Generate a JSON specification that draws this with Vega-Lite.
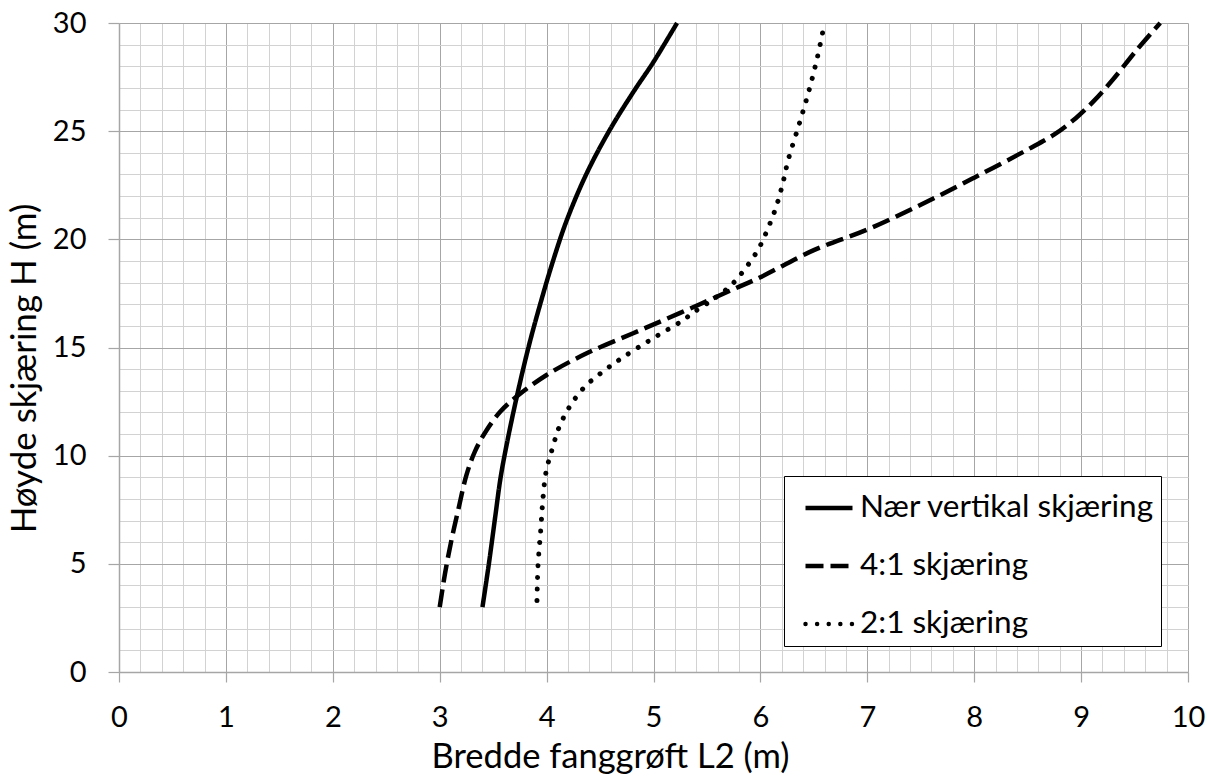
{
  "$schema": "https://vega.github.io/schema/vega-lite/v6.json",
  "width": 1069,
  "height": 649,
  "autosize": {"type": "none"},
  "padding": {"left": 119, "top": 23, "right": 20, "bottom": 106},
  "background": "white",
  "config": {"view": {"stroke": null}, "font": "Lato"},
  "data": {
    "values": [
      {"s": "Nær vertikal skjæring", "L": 3.40, "H": 3},
      {"s": "Nær vertikal skjæring", "L": 3.46, "H": 5},
      {"s": "Nær vertikal skjæring", "L": 3.52, "H": 7.2},
      {"s": "Nær vertikal skjæring", "L": 3.57, "H": 9},
      {"s": "Nær vertikal skjæring", "L": 3.63, "H": 10.6},
      {"s": "Nær vertikal skjæring", "L": 3.72, "H": 12.7},
      {"s": "Nær vertikal skjæring", "L": 3.83, "H": 15},
      {"s": "Nær vertikal skjæring", "L": 3.94, "H": 17},
      {"s": "Nær vertikal skjæring", "L": 4.06, "H": 19},
      {"s": "Nær vertikal skjæring", "L": 4.19, "H": 20.9},
      {"s": "Nær vertikal skjæring", "L": 4.375, "H": 23.05},
      {"s": "Nær vertikal skjæring", "L": 4.59, "H": 25.05},
      {"s": "Nær vertikal skjæring", "L": 4.81, "H": 26.8},
      {"s": "Nær vertikal skjæring", "L": 5.0, "H": 28.2},
      {"s": "Nær vertikal skjæring", "L": 5.22, "H": 30},
      {"s": "4:1 skjæring", "L": 3.0, "H": 3},
      {"s": "4:1 skjæring", "L": 3.05, "H": 4.56},
      {"s": "4:1 skjæring", "L": 3.11, "H": 6.1},
      {"s": "4:1 skjæring", "L": 3.18, "H": 7.64},
      {"s": "4:1 skjæring", "L": 3.25, "H": 9.1},
      {"s": "4:1 skjæring", "L": 3.33, "H": 10.2},
      {"s": "4:1 skjæring", "L": 3.44, "H": 11.19},
      {"s": "4:1 skjæring", "L": 3.57, "H": 12.05},
      {"s": "4:1 skjæring", "L": 3.72, "H": 12.73},
      {"s": "4:1 skjæring", "L": 4.0, "H": 13.73},
      {"s": "4:1 skjæring", "L": 4.375, "H": 14.73},
      {"s": "4:1 skjæring", "L": 4.81, "H": 15.66},
      {"s": "4:1 skjæring", "L": 5.25, "H": 16.6},
      {"s": "4:1 skjæring", "L": 5.75, "H": 17.7},
      {"s": "4:1 skjæring", "L": 6.0, "H": 18.25},
      {"s": "4:1 skjæring", "L": 6.5, "H": 19.5},
      {"s": "4:1 skjæring", "L": 7.0, "H": 20.45},
      {"s": "4:1 skjæring", "L": 7.5, "H": 21.6},
      {"s": "4:1 skjæring", "L": 8.0, "H": 22.85},
      {"s": "4:1 skjæring", "L": 8.5, "H": 24.15},
      {"s": "4:1 skjæring", "L": 8.75, "H": 24.85},
      {"s": "4:1 skjæring", "L": 8.95, "H": 25.6},
      {"s": "4:1 skjæring", "L": 9.12, "H": 26.4},
      {"s": "4:1 skjæring", "L": 9.3, "H": 27.4},
      {"s": "4:1 skjæring", "L": 9.52, "H": 28.75},
      {"s": "4:1 skjæring", "L": 9.74, "H": 30},
      {"s": "2:1 skjæring", "L": 3.91, "H": 3.3},
      {"s": "2:1 skjæring", "L": 3.92, "H": 4.95},
      {"s": "2:1 skjæring", "L": 3.945, "H": 6.55},
      {"s": "2:1 skjæring", "L": 3.965, "H": 7.95},
      {"s": "2:1 skjæring", "L": 3.995, "H": 9.25},
      {"s": "2:1 skjæring", "L": 4.055, "H": 10.35},
      {"s": "2:1 skjæring", "L": 4.12, "H": 11.35},
      {"s": "2:1 skjæring", "L": 4.22, "H": 12.3},
      {"s": "2:1 skjæring", "L": 4.36, "H": 13.2},
      {"s": "2:1 skjæring", "L": 4.525, "H": 13.88},
      {"s": "2:1 skjæring", "L": 4.70, "H": 14.5},
      {"s": "2:1 skjæring", "L": 4.98, "H": 15.38},
      {"s": "2:1 skjæring", "L": 5.28, "H": 16.27},
      {"s": "2:1 skjæring", "L": 5.36, "H": 16.58},
      {"s": "2:1 skjæring", "L": 5.55, "H": 17.2},
      {"s": "2:1 skjæring", "L": 5.73, "H": 17.9},
      {"s": "2:1 skjæring", "L": 5.86, "H": 18.66},
      {"s": "2:1 skjæring", "L": 5.98, "H": 19.54},
      {"s": "2:1 skjæring", "L": 6.07, "H": 20.5},
      {"s": "2:1 skjæring", "L": 6.15, "H": 21.54},
      {"s": "2:1 skjæring", "L": 6.21, "H": 22.6},
      {"s": "2:1 skjæring", "L": 6.26, "H": 23.67},
      {"s": "2:1 skjæring", "L": 6.355, "H": 25.2},
      {"s": "2:1 skjæring", "L": 6.45, "H": 26.8},
      {"s": "2:1 skjæring", "L": 6.53, "H": 28.35},
      {"s": "2:1 skjæring", "L": 6.60, "H": 30}
    ]
  },
  "encoding": {
    "x": {
      "field": "L",
      "type": "quantitative",
      "scale": {"domain": [0, 10], "nice": false, "zero": false},
      "axis": {
        "title": "Bredde fanggrøft L2 (m)",
        "values": [0,0.2,0.4,0.6,0.8,1,1.2,1.4,1.6,1.8,2,2.2,2.4,2.6,2.8,3,3.2,3.4,3.6,3.8,4,4.2,4.4,4.6,4.8,5,5.2,5.4,5.6,5.8,6,6.2,6.4,6.6,6.8,7,7.2,7.4,7.6,7.8,8,8.2,8.4,8.6,8.8,9,9.2,9.4,9.6,9.8,10],
        "grid": true,
        "gridColor": {"condition": {"test": "abs(datum.value - round(datum.value)) < 0.001", "value": "#a6a6a6"}, "value": "#d2d2d2"},
        "gridWidth": 1,
        "domainColor": "#a6a6a6",
        "domainWidth": 1.5,
        "tickColor": {"condition": {"test": "abs(datum.value - round(datum.value)) < 0.001", "value": "#a6a6a6"}, "value": "rgba(0,0,0,0)"},
        "tickSize": 10,
        "tickWidth": 1.2,
        "labelExpr": "abs(datum.value - round(datum.value)) < 0.001 ? format(datum.value, 'd') : ''",
        "labelFlush": false,
        "labelOverlap": false,
        "labelPadding": 21,
        "labelFontSize": 29,
        "labelColor": "black",
        "labelFont": "Lato",
        "titleFont": "Lato",
        "titleFontSize": 34.5,
        "titleFontWeight": "normal",
        "titleColor": "black",
        "titleX": 491,
        "titleY": 95,
        "titleBaseline": "alphabetic",
        "titleAlign": "center"
      }
    },
    "y": {
      "field": "H",
      "type": "quantitative",
      "scale": {"domain": [0, 30], "nice": false, "zero": false},
      "axis": {
        "title": "Høyde skjæring H (m)",
        "values": [0,1,2,3,4,5,6,7,8,9,10,11,12,13,14,15,16,17,18,19,20,21,22,23,24,25,26,27,28,29,30],
        "grid": true,
        "gridColor": {"condition": {"test": "datum.value % 5 === 0", "value": "#a6a6a6"}, "value": "#d2d2d2"},
        "gridWidth": 1,
        "domainColor": "#a6a6a6",
        "domainWidth": 1.5,
        "tickColor": {"condition": {"test": "datum.value % 5 === 0", "value": "#a6a6a6"}, "value": "rgba(0,0,0,0)"},
        "tickSize": 11,
        "tickWidth": 1.2,
        "labelExpr": "datum.value % 5 === 0 ? format(datum.value, 'd') : ''",
        "labelOverlap": false,
        "labelFlush": false,
        "labelPadding": 22,
        "labelFontSize": 29,
        "labelColor": "black",
        "labelFont": "Lato",
        "titleFont": "Lato",
        "titleFontSize": 35,
        "titleFontWeight": "normal",
        "titleColor": "black",
        "titleAngle": 270,
        "titleX": -84,
        "titleY": 345,
        "titleBaseline": "alphabetic",
        "titleAlign": "center"
      }
    },
    "strokeDash": {
      "field": "s",
      "type": "nominal",
      "scale": {
        "domain": ["Nær vertikal skjæring", "4:1 skjæring", "2:1 skjæring"],
        "range": [[1, 0], [18, 7], [0.01, 11.6]]
      },
      "legend": {
        "title": null,
        "orient": "none",
        "legendX": 665,
        "legendY": 453,
        "strokeColor": "black",
        "fillColor": "white",
        "padding": 6,
        "symbolOffset": 13,
        "symbolType": "stroke",
        "symbolSize": 2209,
        "symbolStrokeWidth": 4.5,
        "symbolStrokeColor": "black",
        "labelFontSize": 31.5,
        "labelFont": "Lato",
        "labelColor": "black",
        "labelOffset": 5,
        "labelLimit": 500,
        "rowPadding": 16,
        "encode": {
          "symbols": {
            "update": {
              "strokeCap": {"signal": "datum.value === '2:1 skjæring' ? 'round' : 'butt'"}
            }
          }
        }
      }
    },
    "order": {"field": "H", "type": "quantitative"}
  },
  "layer": [
    {
      "transform": [{"filter": "datum.s !== '2:1 skjæring'"}],
      "mark": {"type": "line", "color": "black", "strokeWidth": 4.5, "interpolate": "catmull-rom", "strokeCap": "butt"}
    },
    {
      "transform": [{"filter": "datum.s === '2:1 skjæring'"}],
      "mark": {"type": "line", "color": "black", "strokeWidth": 5, "interpolate": "catmull-rom", "strokeCap": "round"}
    }
  ]
}
